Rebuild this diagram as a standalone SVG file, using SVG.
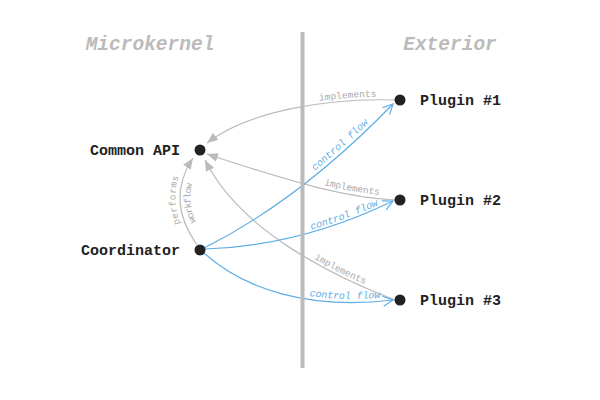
<svg xmlns="http://www.w3.org/2000/svg" width="600" height="400" viewBox="0 0 600 400">
<style>
.bg{fill:#fff}
.head{font-family:"Liberation Mono","Courier New",monospace;font-size:19.5px;font-weight:bold;font-style:italic;fill:#bbb;text-anchor:middle}
.lbl{font-family:"Liberation Mono","Courier New",monospace;font-size:15px;font-weight:bold;fill:#222}
.dot{fill:#222}
.impl{fill:none;stroke:#bbb;stroke-width:1.2}
.flow{fill:none;stroke:#5dade8;stroke-width:1.2}
.ilbl{font-family:"Liberation Mono","Courier New",monospace;font-size:9.5px;fill:#aaa}
.flbl{font-family:"Liberation Mono","Courier New",monospace;font-size:10px;font-style:italic;fill:#5dade8}
.bar{fill:#bbb}
</style>
<defs>
<marker id="gh" markerUnits="userSpaceOnUse" markerWidth="11" markerHeight="9" viewBox="0 0 11 9" refX="11" refY="4.5" orient="auto-start-reverse">
<path d="M0,0 L11,4.5 L0,9 z" fill="#bbb"/>
</marker>
<marker id="bh" markerUnits="userSpaceOnUse" markerWidth="12" markerHeight="12" viewBox="0 0 12 12" refX="11" refY="6" orient="auto">
<path d="M1,1 L11,6 L1,11" fill="none" stroke="#5dade8" stroke-width="1.2"/>
</marker>
</defs>
<rect class="bg" x="0" y="0" width="600" height="400"/>
<text class="head" x="150" y="50">Microkernel</text>
<text class="head" x="450" y="50">Exterior</text>
<g id="connectors">
<path id="i1" class="impl" d="M207,143 C250,110 330,98 395,100" marker-start="url(#gh)"/>
<path id="i2" class="impl" d="M207,154 C300,185 350,198 395,200" marker-start="url(#gh)"/>
<path id="i3" class="impl" d="M205,160 C240,230 330,275 395,300" marker-start="url(#gh)"/>
<path id="pw" class="impl" d="M197,245 Q165,200 193,158" marker-end="url(#gh)"/>
<path id="c1" class="flow" d="M204,248 Q300,200 393,104" marker-end="url(#bh)"/>
<path id="c2" class="flow" d="M205,249 Q300,246 393,201" marker-end="url(#bh)"/>
<path id="c3" class="flow" d="M204,253 C245,290 310,310 393,300" marker-end="url(#bh)"/>
<text class="ilbl" dy="-3"><textPath href="#i1" startOffset="76%" text-anchor="middle">implements</textPath></text>
<text class="ilbl" dy="-4"><textPath href="#i2" startOffset="77%" text-anchor="middle">implements</textPath></text>
<text class="ilbl" dy="-3"><textPath href="#i3" startOffset="74%" text-anchor="middle">implements</textPath></text>
<text class="ilbl" dy="-4.5"><textPath href="#pw" startOffset="52%" text-anchor="middle">performs</textPath></text>
<text class="ilbl" dy="10.5"><textPath href="#pw" startOffset="48%" text-anchor="middle">workflow</textPath></text>
<text class="flbl" dy="-4"><textPath href="#c1" startOffset="72%" text-anchor="middle">control flow</textPath></text>
<text class="flbl" dy="-2.5"><textPath href="#c2" startOffset="74%" text-anchor="middle">control flow</textPath></text>
<text class="flbl" dy="-3.5"><textPath href="#c3" startOffset="76%" text-anchor="middle">control flow</textPath></text>
</g>
<rect class="bar" x="300.5" y="32" width="4" height="336"/>
<g id="common-api"><circle class="dot" cx="200" cy="150" r="5.5"/><text class="lbl" x="180" y="155" text-anchor="end">Common API</text></g>
<g id="coordinator"><circle class="dot" cx="200" cy="250" r="5.5"/><text class="lbl" x="180" y="255" text-anchor="end">Coordinator</text></g>
<g id="plugin-1"><circle class="dot" cx="400" cy="100" r="5.5"/><text class="lbl" x="420" y="105">Plugin #1</text></g>
<g id="plugin-2"><circle class="dot" cx="400" cy="200" r="5.5"/><text class="lbl" x="420" y="205">Plugin #2</text></g>
<g id="plugin-3"><circle class="dot" cx="400" cy="300" r="5.5"/><text class="lbl" x="420" y="305">Plugin #3</text></g>
</svg>
